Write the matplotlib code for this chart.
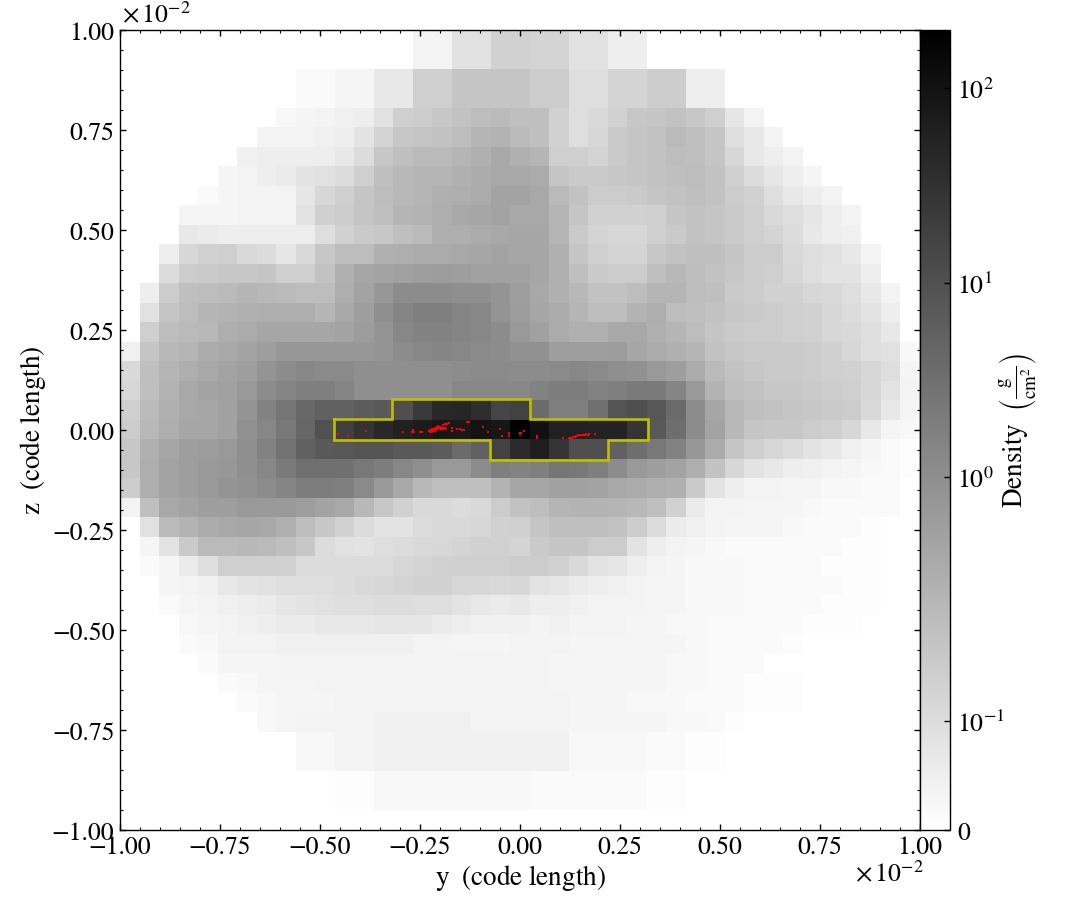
import numpy as np
import matplotlib
matplotlib.use("Agg")
import matplotlib.pyplot as plt
from matplotlib.colors import SymLogNorm
from matplotlib.cm import ScalarMappable
from matplotlib.ticker import MultipleLocator

plt.rcParams['font.family'] = ['STIXGeneral', 'DejaVu Serif']
plt.rcParams['mathtext.fontset'] = 'stix'

# Colour position of each cell (percent of the colour bar), top row first.
# Each entry: first occupied column, then the values from that column on.
rows = [
 (15,[5,5,12,12,18,18,17,17,12,12,7,7]),
 (15,[5,5,12,12,18,18,17,17,12,12,7,7]),
 (9,[2,2,4,4,9,9,19,19,23,23,23,23,20,20,13,13,17,17,20,20,7,7]),
 (9,[2,2,4,4,9,9,19,19,23,23,23,23,20,20,13,13,17,17,20,20,7,7]),
 (8,[3,4,5,6,7,12,19,20,22,24,26,27,25,25,18,13,15,18,22,23,24,22,19,10,5]),
 (7,[5,5,5,6,7,11,17,22,23,24,26,29,30,27,25,18,13,16,21,23,24,27,25,23,13,9,5]),
 (6,[6,7,7,7,7,9,14,22,25,27,27,29,31,34,31,29,19,19,17,21,23,24,26,25,23,16,9,7,5]),
 (5,[4,5,7,8,11,12,14,19,25,28,29,29,31,33,34,34,33,23,21,21,22,23,24,25,26,24,19,14,10,7,4]),
 (4,[2,4,5,5,5,10,16,19,23,26,28,29,31,32,33,36,36,34,27,24,20,20,21,23,24,25,24,20,18,13,9,7,5]),
 (3,[4,4,4,5,5,5,11,19,20,23,25,29,30,32,34,35,36,34,34,29,23,18,18,18,19,23,24,23,21,19,15,13,10,7,5]),
 (3,[9,8,7,7,7,7,7,13,18,21,22,25,27,32,32,33,34,35,35,29,21,17,16,16,19,21,24,23,21,19,17,14,9,7,6]),
 (2,[7,16,18,19,15,14,10,15,22,26,26,31,32,33,33,34,35,36,35,35,31,23,19,17,17,22,24,25,25,23,20,20,15,13,12,9,5]),
 (2,[14,20,21,22,22,23,19,19,24,31,35,36,37,38,39,38,37,37,37,35,31,25,21,20,20,25,28,26,24,22,20,19,16,13,11,11,7]),
 (1,[7,20,25,26,27,29,28,27,26,26,32,36,41,45,45,45,44,44,42,38,34,31,28,24,24,26,29,29,26,25,21,20,18,18,16,15,13,9,5]),
 (1,[12,23,26,29,30,31,32,32,32,29,34,38,44,48,50,50,48,47,42,39,35,33,29,26,26,30,32,26,25,24,22,21,20,19,18,16,14,11,7]),
 (1,[19,26,27,28,32,33,35,35,35,35,36,39,42,47,49,49,48,47,45,40,37,33,31,31,34,34,31,29,26,23,21,20,20,19,18,16,15,13,9]),
 (0,[6,23,28,29,33,34,36,38,41,41,41,41,41,42,45,47,48,47,46,45,43,43,38,38,38,39,35,33,31,29,24,22,21,21,21,20,19,16,13,12,3]),
 (0,[15,25,29,32,34,36,38,42,45,47,46,46,44,44,44,44,44,45,46,46,45,45,46,47,46,44,43,40,38,33,27,24,22,21,21,20,19,18,16,13,4]),
 (0,[16,25,30,34,36,37,40,45,48,50,50,48,44,44,44,44,44,47,47,47,47,49,51,51,49,50,52,52,48,40,30,25,24,22,22,21,20,19,16,11,5]),
 (0,[19,27,31,34,35,37,42,49,54,59,62,62,64,65,69,77,84,85,82,73,74,58,50,50,56,67,69,66,58,45,35,28,25,24,23,22,21,20,15,9,4]),
 (0,[20,28,32,35,35,37,43,47,53,60,68,75,80,84,87,89,91,90,92,91,100,93,87,87,86,86,79,65,57,45,36,28,23,22,22,20,19,16,9,4,3]),
 (0,[22,31,35,38,39,40,44,49,55,62,65,66,67,67,65,65,64,58,62,74,83,88,79,69,69,62,57,53,49,41,33,23,19,16,14,11,9,6,4,2,1]),
 (0,[22,32,36,38,40,41,44,47,52,56,56,56,53,51,47,44,40,40,45,50,49,50,54,53,50,45,40,38,36,32,24,16,11,9,7,6,5,4,3,2,1]),
 (0,[20,32,36,38,40,42,43,45,48,51,51,50,46,40,34,28,25,25,25,30,35,35,37,37,36,34,33,32,31,21,11,7,5,5,4,4,3,3,2,2,0]),
 (0,[5,25,34,36,38,38,40,40,40,38,36,34,28,22,18,15,15,14,15,20,24,26,29,30,30,29,28,25,18,8,5,5,4,4,4,3,2,2,2,2,0]),
 (0,[0,12,27,30,33,34,35,34,31,26,22,18,14,11,11,14,15,15,16,18,19,23,25,25,25,24,20,14,8,6,5,4,4,4,3,2,2,2,1,0,0]),
 (0,[0,4,11,21,27,27,28,27,25,22,14,12,11,13,14,15,16,17,18,18,17,21,23,23,20,20,11,7,5,4,3,2,2,2,2,2,2,1,1,0,0]),
 (0,[0,2,4,8,13,19,19,19,18,14,14,14,14,14,16,17,18,19,19,19,20,20,18,15,11,10,7,5,4,3,3,3,2,2,2,2,1,1,1,0,0]),
 (2,[4,5,6,9,11,12,13,13,13,14,15,16,17,18,18,16,16,15,16,11,10,8,7,6,5,4,4,3,3,3,2,2,2,2,2,1,1]),
 (2,[2,4,5,6,7,8,10,11,12,13,13,14,14,13,13,11,9,8,9,7,7,6,5,5,5,4,4,3,3,3,2,2,2,2,1,1,1]),
 (3,[3,4,5,6,7,8,8,9,9,9,10,10,10,8,7,6,6,6,5,6,5,5,5,4,4,3,3,2,2,2,2,2,1,1,1]),
 (3,[2,3,5,5,5,6,6,6,6,6,6,6,5,5,4,4,4,5,5,5,4,4,4,4,4,4,3,2,2,2,2,1]),
 (4,[2,4,4,4,5,5,5,5,5,5,5,5,5,5,5,5,5,5,4,4,4,4,4,4,3,3,2,2,2]),
 (5,[2,3,4,4,4,5,5,5,5,5,5,5,5,5,5,5,5,4,4,4,4,4,4,3,3,2,2,1,1,1]),
 (6,[2,3,4,4,4,5,5,5,5,5,5,5,5,5,5,5,5,4,4,4,3,3,3,2,2,2,1,1,1]),
 (7,[3,4,5,5,5,5,6,6,6,6,6,5,5,5,5,5,4,4,4,4,4,3,3,2,1]),
 (9,[3,3,5,5,6,6,6,6,6,6,6,6,6,6,3,3,3,3,2,2,1,1]),
 (9,[3,3,5,5,6,6,6,6,6,6,6,6,6,6,3,3,3,3,2,2,1,1]),
 (11,[1,1,3,3,3,3,3,3,3,3,2,2,2,2,2,2,1,1]),
 (11,[1,1,3,3,3,3,3,3,3,3,2,2,2,2,2,2,1,1]),
 (0,[]),
]

# Outline of the yellow region (units of 1e-2)
box_y = [-0.466,-0.32,-0.32,0.025,0.025,0.32,0.32,0.22,0.22,-0.075,-0.075,-0.466,-0.466]
box_z = [0.027,0.027,0.077,0.077,0.027,0.027,-0.025,-0.025,-0.075,-0.075,-0.025,-0.025,0.027]

# Red particles (units of 1e-2)
part_y = [-.454,-.431,-.384,-.292,-.271,-.267,-.264,-.25,-.246,-.227,-.223,-.22,-.217,-.2125,-.208,-.221,-.215,-.21,-.204,-.207,-.2,-.196,-.192,-.1875,-.193,-.1875,-.183,-.177,-.169,-.169,-.158,-.15,-.146,-.139,-.132,-.128,-.092,-.08,-.049,-.044,-.028,-.0275,0,.003,.011,.042,.042,.108,.123,.129,.1375,.142,.146,.154,.1625,.171,.173,.188,
          -.225,-.219,-.213,-.206,-.202,-.198,-.19,-.185,-.218,-.211,-.224,-.2,.125,.133,.14,.15,.158,.166,-.001,.001]
part_z = [-.011,-.017,-.0025,-.006,-.006,-.002,-.006,-.006,-.006,-.004,-.002,0,.002,.004,.007,-.005,-.003,-.002,.01,.002,.003,.003,.002,.004,.012,.013,.015,.016,.004,-.003,.0025,.002,0,0,.019,.018,.007,-.007,.002,-.015,-.008,-.015,-.009,-.009,-.004,-.017,-.022,-.022,-.021,-.02,-.0175,-.015,-.014,-.013,-.013,-.0125,-.01,-.012,
          -.001,.001,.0,.005,.006,.002,.003,.002,-.004,-.001,-.006,.007,-.02,-.019,-.016,-.014,-.013,-.012,-.008,-.01]

x_ticks = [-1,-.75,-.5,-.25,0,.25,.5,.75,1]
cbar_ticks = [0,0.1,1,10,100]
cbar_labels = ['$0$','$10^{-1}$','$10^{0}$','$10^{1}$','$10^{2}$']

W, H = 1085, 920
fig = plt.figure(figsize=(W/100, H/100), dpi=100)
ax = fig.add_axes([120/W, 1-830.5/H, 800/W, 800/H])
cax = fig.add_axes([920/W, 1-830.5/H, 30/W, 800/H])

norm = SymLogNorm(linthresh=0.2, linscale=1.0, vmin=0, vmax=200, base=10)
levels = np.zeros((41, 41))
for i, (start, vals) in enumerate(rows):
    levels[i, start:start+len(vals)] = vals
density = np.asarray(norm.inverse(levels/100.0))

edges_y = np.linspace(-1, 1, 42)
edges_z = np.linspace(1, -1, 42)
ax.pcolormesh(edges_y, edges_z, density, cmap='binary', norm=norm, shading='flat',
              antialiased=False, linewidth=0)
ax.plot(box_y, box_z, color='#bfbf00', lw=1.9, solid_joinstyle='miter')
ax.scatter(part_y, part_z, s=4.0, c='#ff0000', marker='s', linewidths=0, zorder=3)

ax.set_xlim(-1, 1); ax.set_ylim(-1, 1)
ax.set_xticks(x_ticks); ax.set_yticks(x_ticks)
ax.xaxis.set_minor_locator(MultipleLocator(.05)); ax.yaxis.set_minor_locator(MultipleLocator(.05))
ax.set_xticklabels([f'{t:.2f}'.replace('-', '\u2212') for t in x_ticks])
ax.set_yticklabels([f'{t:.2f}'.replace('-', '\u2212') for t in x_ticks])
ax.tick_params(which='major', direction='in', top=True, right=True, length=4, width=1, labelsize=18.5, pad=4)
ax.tick_params(which='minor', direction='in', top=True, right=True, length=2, width=0.8)
for s in ax.spines.values():
    s.set_linewidth(1.0)

fig.text(520/W, 1-878/H, r'$\mathrm{y\ \ (code\ length)}$', fontsize=19.5, ha='center', va='center')
fig.text(33/W, 1-430/H, r'$\mathrm{z\ \ (code\ length)}$', fontsize=19.5, ha='center', va='center', rotation=90)
fig.text(122/W, 1-16/H, r'$\times\,10^{-2}$', fontsize=18.5, ha='left', va='center')
fig.text(855/W, 1-875/H, r'$\times\,10^{-2}$', fontsize=18.5, ha='left', va='center')

sm = ScalarMappable(norm=norm, cmap='binary')
cb = fig.colorbar(sm, cax=cax)
cb.set_ticks(cbar_ticks, labels=cbar_labels)
cb.ax.minorticks_off()
cb.ax.tick_params(which='major', direction='in', length=4, width=1, labelsize=18.5, pad=5)
cb.outline.set_linewidth(1.0)
fig.text(1018/W, 1-430/H, r'$\mathrm{Density}\ \ \left(\frac{\mathrm{g}}{\mathrm{cm}^{2}}\right)$',
         fontsize=19.5, ha='center', va='center', rotation=90)

fig.savefig('out.png', dpi=100)
